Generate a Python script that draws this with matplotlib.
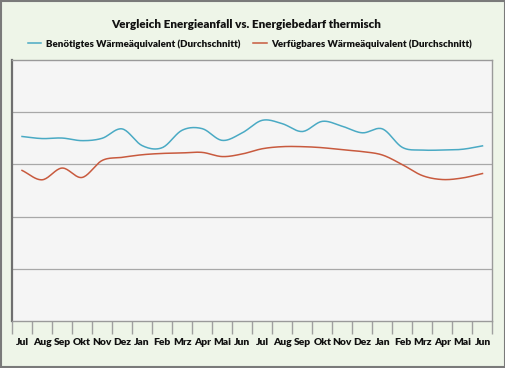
import numpy as np
import matplotlib
matplotlib.use("Agg")
import matplotlib.pyplot as plt
from matplotlib.patches import Rectangle

months = ["Jul", "Aug", "Sep", "Okt", "Nov", "Dez", "Jan", "Feb", "Mrz", "Apr", "Mai", "Jun",
          "Jul", "Aug", "Sep", "Okt", "Nov", "Dez", "Jan", "Feb", "Mrz", "Apr", "Mai", "Jun"]
benoetigt = [70.7, 69.9, 70.1, 69.1, 70.0, 73.6, 67.2, 66.4, 73.1, 73.7, 69.2, 72.1,
             76.9, 75.6, 72.6, 76.5, 74.6, 72.1, 73.6, 66.5, 65.5, 65.5, 65.8, 67.1]
verfuegbar = [57.7, 54.1, 58.6, 55.0, 61.5, 62.7, 63.7, 64.2, 64.4, 64.6, 63.0, 64.0,
              66.0, 66.8, 66.8, 66.4, 65.6, 64.9, 63.6, 59.9, 55.7, 54.2, 54.8, 56.5]

label_b = "Benötigtes Wärmeäquivalent (Durchschnitt)"
label_v = "Verfügbares Wärmeäquivalent (Durchschnitt)"
title = "Vergleich Energieanfall vs. Energiebedarf thermisch"


def smooth(y, n=20):
    # Catmull-Rom rendering of the line through the data points
    y = np.asarray(y, float)
    x = np.arange(len(y), dtype=float)
    P = np.concatenate([[2 * y[0] - y[1]], y, [2 * y[-1] - y[-2]]])
    xs, ys = [], []
    t = np.linspace(0, 1, n, endpoint=False)
    for i in range(len(y) - 1):
        p0, p1, p2, p3 = P[i], P[i + 1], P[i + 2], P[i + 3]
        yy = 0.5 * ((2 * p1) + (-p0 + p2) * t + (2 * p0 - 5 * p1 + 4 * p2 - p3) * t ** 2
                    + (-p0 + 3 * p1 - 3 * p2 + p3) * t ** 3)
        xs.append(x[i] + t)
        ys.append(yy)
    xs.append([x[-1]])
    ys.append([y[-1]])
    return np.concatenate(xs), np.concatenate(ys)


plt.rcParams['font.family'] = ['Lato', 'DejaVu Sans']

fig = plt.figure(figsize=(5.06, 3.68), dpi=100)
fig.patch.set_facecolor("#eef5e8")
fig.patches.append(Rectangle((0.002, 0.003), 0.996, 0.994, transform=fig.transFigure,
                             fill=False, edgecolor="#7a7a7a", linewidth=1.5))

ax = fig.add_axes([12 / 506, 1 - 321 / 368, 480.5 / 506, 261 / 368])
ax.set_facecolor("#f5f5f5")

xb, yb = smooth(benoetigt)
xv, yv = smooth(verfuegbar)
ax.plot(xb, yb, color="#4aaac4", linewidth=1.1, label=label_b)
ax.plot(xv, yv, color="#c85a3e", linewidth=1.1, label=label_v)

ax.set_xlim(-0.5, len(months) - 0.5)
ax.set_ylim(0, 100)
ax.set_yticks([20, 40, 60, 80])
ax.yaxis.grid(True, color="#a8a8a8", linewidth=0.9)
ax.tick_params(axis="y", left=False, labelleft=False)

ax.set_xticks(np.arange(-0.5, len(months), 1.0))
ax.set_xticklabels([])
ax.tick_params(axis="x", which="major", length=9, width=1, color="#a0a0a0", direction="out")
ax.set_xticks(np.arange(len(months)), minor=True)
ax.set_xticklabels(months, minor=True, fontsize=7.4, fontweight="heavy", color="#111111")
ax.tick_params(axis="x", which="minor", length=0, pad=12.5)

for s in ["top", "right", "bottom"]:
    ax.spines[s].set_color("#9a9a9a")
    ax.spines[s].set_linewidth(1.0)
ax.spines["left"].set_color("#6f6f6f")
ax.spines["left"].set_linewidth(1.6)

fig.text(0.486, 1 - 25 / 368, title, ha="center", va="center", fontsize=8.4,
         fontweight="heavy", color="#111111")
leg = fig.legend(loc="center", bbox_to_anchor=(0.494, 1 - 44 / 368), ncol=2, frameon=False,
                 fontsize=7, handlelength=1.4, columnspacing=1.3, handletextpad=0.5)
for t in leg.get_texts():
    t.set_fontweight("heavy")
    t.set_color("#111111")

fig.savefig("out.png", dpi=100, facecolor=fig.get_facecolor())
